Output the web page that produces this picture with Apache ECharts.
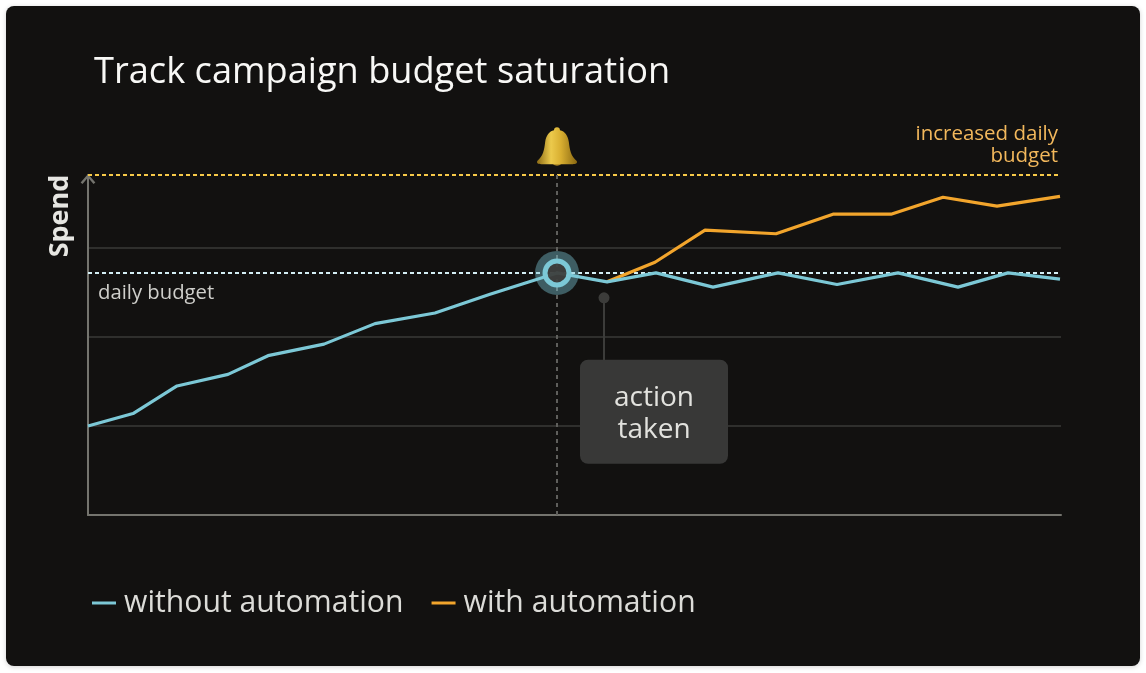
<!DOCTYPE html>
<html>
<head>
<meta charset="utf-8">
<title>Track campaign budget saturation</title>
<script src="https://cdn.jsdelivr.net/npm/echarts@6/dist/echarts.min.js"></script>
<style>
  html, body { margin: 0; padding: 0; background: #fff; }
  #card { position: absolute; left: 6px; top: 6px; width: 1134px; height: 660px; background: #121110; border-radius: 8px; box-shadow: 0 1px 5px rgba(0,0,0,.18); }
  #chart-container { position: absolute; left: 0; top: 0; width: 1146px; height: 673px; }
</style>
</head>
<body>
<div id="card"></div>
<div id="chart-container"></div>
<script>
var withoutX = [0, 45, 89, 140, 180, 236, 287, 347, 402, 469, 519, 568, 625, 690, 749, 810, 870, 920, 972];
var withoutY = [100, 114, 145, 158, 179, 192, 215, 227, 248, 272, 262, 272, 256, 272, 259, 272, 256, 272, 265];
var withX = [519, 567, 617, 688, 745, 803, 855, 909, 972];
var withY = [262, 284, 320, 316, 338, 338, 357, 347, 358];
var dailyBudget = 272;
var increasedBudget = 382;
var gridTicks = 100;
var alertPoint = [469, 272];
var bellPoint = [469, 415];
var clapperPoint = [469, 399];
var actionDot = [516, 244];
var actionEnd = [516, 174];
var actionBox = [566, 116];
var actionText = [566, 113];

var FONT = 'Open Sans';
var bellPath = 'path://M20 0C22 0 23 1 23 3C28 4 31 8 32 14C33 22 34 27 40 32C41 34 39 35 36 35L4 35C1 35 -1 34 0 32C6 27 7 22 8 14C9 8 12 4 17 3C17 1 18 0 20 0Z';
var chevron = 'path://M7 0L14 8L12.2 9.5L7 3.4L1.8 9.5L0 8Z';

function pair(xs, ys) {
  return xs.map(function (x, i) { return [x, ys[i]]; });
}

function marker(point, symbol, size, style, z) {
  return {
    type: 'scatter', data: [point], symbol: symbol, symbolSize: size,
    itemStyle: Object.assign({ opacity: 1 }, style), z: z, silent: true, clip: false
  };
}

var dom = document.getElementById('chart-container');
var myChart = echarts.init(dom, null, { renderer: 'canvas' });

var option = {
  animation: false,
  title: {
    text: 'Track campaign budget saturation',
    left: 89, top: 50,
    textStyle: { color: '#f8f8f6', fontFamily: FONT, fontSize: 36.2, fontWeight: 'normal' }
  },
  legend: {
    left: 92, top: 588, padding: 0,
    itemWidth: 24, itemHeight: 3, itemGap: 28,
    selectedMode: false, icon: 'rect',
    textStyle: { color: '#dcdcd8', fontFamily: FONT, fontSize: 30.2, padding: [0, 0, 0, 3] },
    data: [
      { name: 'without automation', itemStyle: { color: '#7cc8d6' } },
      { name: 'with automation', itemStyle: { color: '#f2a52c' } }
    ]
  },
  graphic: [
    {
      type: 'text', x: 60, y: 216, rotation: Math.PI / 2,
      style: { text: 'Spend', fill: '#e6e6e2', font: 'bold 27px "Open Sans"', align: 'center', verticalAlign: 'middle' }
    }
  ],
  grid: { left: 88, top: 175, width: 973, height: 340 },
  xAxis: {
    type: 'value', min: 0, max: 973,
    axisLine: { lineStyle: { color: '#74746e', width: 2 } },
    axisTick: { show: false }, axisLabel: { show: false }, splitLine: { show: false }
  },
  yAxis: {
    type: 'value', min: 0, max: increasedBudget, interval: gridTicks,
    axisLine: { show: true, symbol: ['none', chevron], symbolSize: [15, 10], symbolOffset: [0, -4], lineStyle: { color: '#74746e', width: 2 } },
    axisTick: { show: false }, axisLabel: { show: false },
    splitLine: { show: true, showMaxLine: false, lineStyle: { color: '#2f2f2d', width: 2 } }
  },
  series: [
    {
      name: 'with automation', type: 'line', data: pair(withX, withY),
      showSymbol: false, z: 3, lineStyle: { color: '#f2a52c', width: 3.2 }, itemStyle: { color: '#f2a52c' }
    },
    {
      name: 'without automation', type: 'line', data: pair(withoutX, withoutY),
      showSymbol: false, z: 4, lineStyle: { color: '#7cc8d6', width: 3.2 }, itemStyle: { color: '#7cc8d6' },
      markLine: {
        silent: true, symbol: 'none', z: 2,
        data: [
          {
            yAxis: dailyBudget,
            lineStyle: { color: '#d3eef4', type: [4, 3], width: 2 },
            label: { show: true, position: 'insideStartBottom', formatter: 'daily budget', color: '#cfcfcb', fontFamily: FONT, fontSize: 20.3, distance: [10, 10] }
          },
          {
            yAxis: increasedBudget,
            lineStyle: { color: '#f7c948', type: [4, 3], width: 2 },
            label: { show: true, position: 'insideEndTop', formatter: 'increased daily\nbudget', align: 'right', lineHeight: 22, color: '#f2b85c', fontFamily: FONT, fontSize: 20.5, distance: [3, 8] }
          },
          [
            { coord: [alertPoint[0], increasedBudget], lineStyle: { color: '#5f5f5c', type: [4, 4], width: 2 }, label: { show: false } },
            { coord: [alertPoint[0], 0] }
          ],
          [
            { coord: actionDot, lineStyle: { color: '#3c3c3a', type: 'solid', width: 2 }, label: { show: false } },
            { coord: actionEnd }
          ]
        ]
      }
    },
    marker(alertPoint, 'circle', 44, { color: 'rgba(124,200,214,0.42)' }, 5),
    marker(alertPoint, 'circle', 24, { color: 'rgba(60,60,58,0.92)', borderColor: '#7cc8d6', borderWidth: 5 }, 6),
    marker(actionDot, 'circle', 11, { color: '#3c3c3a' }, 5),
    {
      type: 'scatter', data: [actionBox], symbolSize: 1, silent: true, z: 7,
      itemStyle: { color: 'transparent', opacity: 1 },
      label: {
        show: true, position: 'inside', formatter: ' ',
        width: 148, height: 104, backgroundColor: '#383837', borderRadius: 8
      }
    },
    {
      type: 'scatter', data: [actionText], symbolSize: 1, silent: true, z: 8,
      itemStyle: { color: 'transparent', opacity: 1 },
      label: {
        show: true, position: 'inside', formatter: 'action\ntaken', align: 'center', verticalAlign: 'middle',
        lineHeight: 32, color: '#e2e2de', fontFamily: FONT, fontSize: 28
      }
    },
    marker(clapperPoint, 'circle', 12, { color: '#a98526' }, 7),
    marker(bellPoint, bellPath, [40, 37], {
      color: new echarts.graphic.LinearGradient(0, 0, 1, 0, [
        { offset: 0, color: '#8d6c16' },
        { offset: 0.35, color: '#ecca4c' },
        { offset: 0.6, color: '#d8ae30' },
        { offset: 1, color: '#8a6812' }
      ])
    }, 8)
  ]
};

myChart.setOption(option);
window.addEventListener('resize', myChart.resize);
</script>
</body>
</html>
